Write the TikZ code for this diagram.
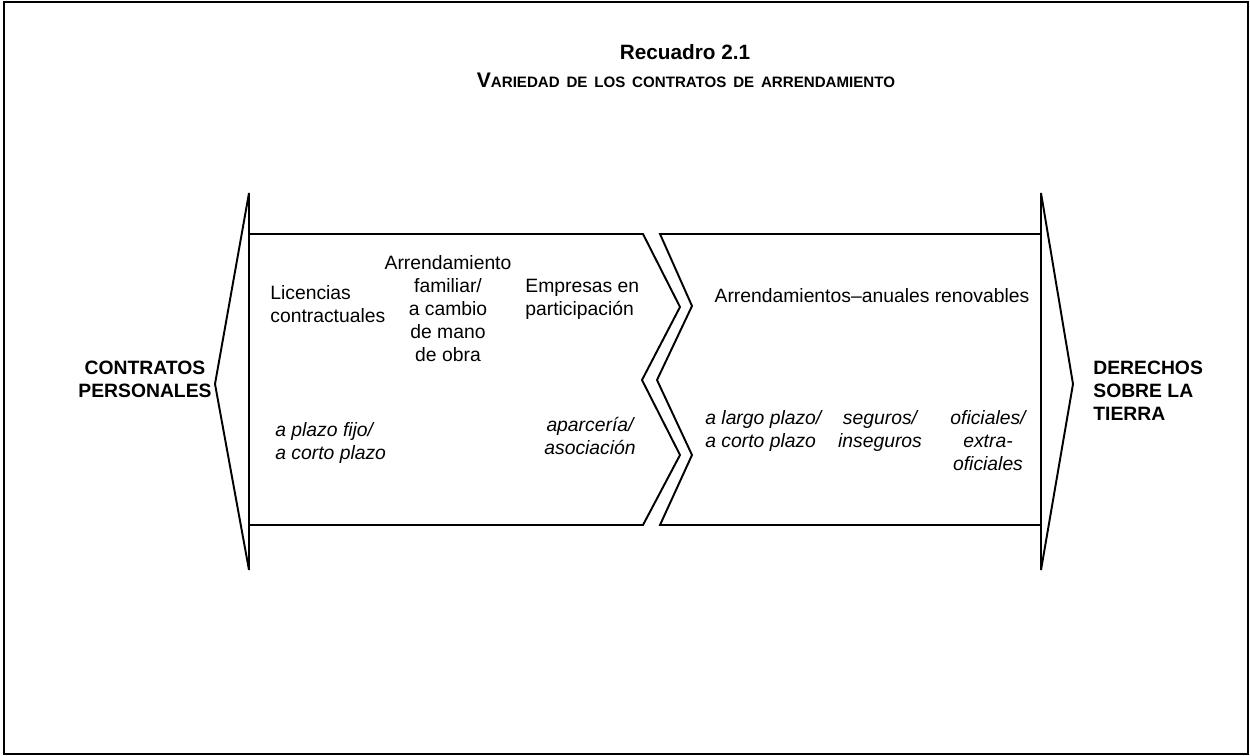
\documentclass[tikz,border=0pt]{standalone}
\usepackage{fontspec}
\setmainfont{Liberation Sans}
\usetikzlibrary{positioning}

\begin{document}
\begin{tikzpicture}[x=0.02cm, y=-0.02cm,
    txt/.style={inner sep=0pt, font=\fontsize{11}{13.1}\selectfont},
    emph/.style={txt, font=\fontsize{11}{13.1}\selectfont\itshape},
    side/.style={inner sep=0pt, font=\fontsize{11}{13.1}\selectfont\bfseries},
    outline/.style={draw, line width=1.1pt, line join=miter}
]
    \useasboundingbox (0,0) rectangle (1250,756);
    \draw[line width=1.6pt] (4,2) rectangle (1248,754);

    % heading
    \node[inner sep=0pt, font=\fontsize{11.8}{14}\selectfont\bfseries] (title) at (685,52) {Recuadro 2.1};
    \node[inner sep=0pt, font=\bfseries] (subtitle) at (686,80)
        {\fontsize{12}{14}\selectfont V\fontsize{8.6}{10}\selectfont\spaceskip=0.45em ARIEDAD DE LOS CONTRATOS DE ARRENDAMIENTO};

    % arrow heads at both ends
    \draw[outline] (249,193) -- (215,384) -- (249,570) -- cycle;
    \draw[outline] (1041,193) -- (1073,384) -- (1041,570) -- cycle;

    % the two chevron bands
    \draw[outline] (249,234) -- (643,234) -- (680,307) -- (642,380) -- (680,455)
        -- (643,525) -- (249,525);
    \draw[outline] (660,234) -- (1041,234) -- (1041,525) -- (660,525) -- (692,455)
        -- (657,380) -- (692,306) -- cycle;

    % end labels
    \node[side, align=center] (personal) at (145,379) {CONTRATOS\\PERSONALES};
    \node[side, align=left, anchor=west] (derechos) at (1093,391) {DERECHOS\\SOBRE LA\\TIERRA};

    % left band
    \node[txt, align=left, anchor=west] (licencias) at (270,304) {Licencias\\contractuales};
    \node[txt, align=center] (familiar) at (448,309) {Arrendamiento\\familiar/\\a cambio\\de mano\\de obra};
    \node[txt, align=left, anchor=west] (empresas) at (525,299) {Empresas en\\participación};
    \node[emph, align=left, anchor=west] (plazofijo) at (275,443) {a plazo fijo/\\a corto plazo};
    \node[emph, align=center] (aparceria) at (590,436) {aparcería/\\asociación};

    % right band
    \node[txt] (anuales) at (872,296) {Arrendamientos–anuales renovables};
    \node[emph, align=left, anchor=west] (largo) at (705,431) {a largo plazo/\\a corto plazo};
    \node[emph, align=center] (seguros) at (880,431) {seguros/\\inseguros};
    \node[emph, align=center] (oficiales) at (988,441) {oficiales/\\extra-\\oficiales};
\end{tikzpicture}
\end{document}
